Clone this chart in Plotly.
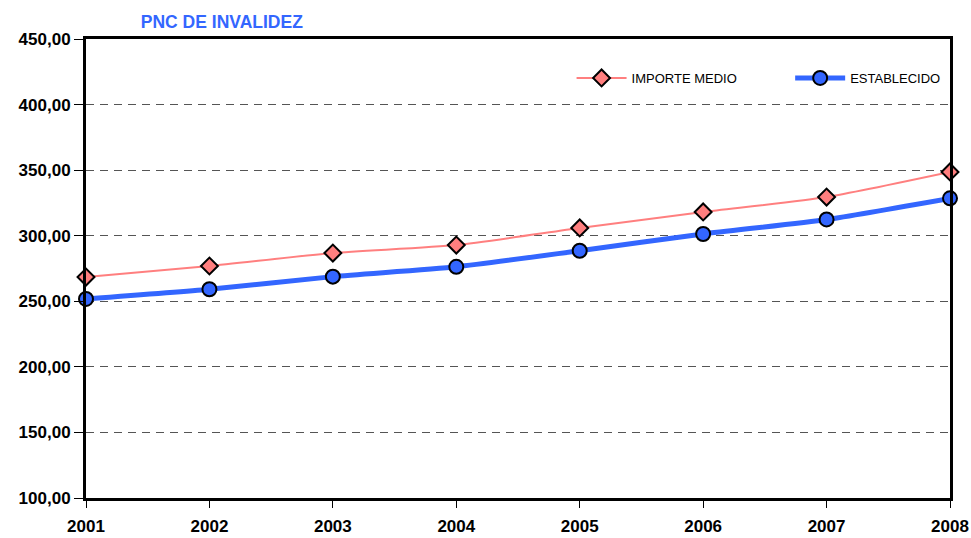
import plotly.graph_objects as go

years = ["2001", "2002", "2003", "2004", "2005", "2006", "2007", "2008"]
importe_medio = [268.5, 276.9, 286.8, 292.9, 305.9, 318.1, 329.5, 348.6]
establecido = [251.79, 259.20, 268.80, 276.30, 288.56, 301.31, 312.43, 328.48]

FONT = "Liberation Sans Narrow, Arial Narrow, Liberation Sans, Arial, sans-serif"

fig = go.Figure()
fig.add_trace(go.Scatter(
    x=years, y=importe_medio, name="IMPORTE MEDIO", mode="lines+markers",
    line=dict(color="#FF7F7F", width=2, shape="spline", smoothing=0.6),
    marker=dict(symbol="diamond", size=13, color="#FF7F7F", line=dict(color="black", width=2)),
    cliponaxis=False, legend="legend",
))
fig.add_trace(go.Scatter(
    x=years, y=establecido, name="ESTABLECIDO", mode="lines+markers",
    line=dict(color="#3366FF", width=5, shape="spline", smoothing=0.6),
    marker=dict(symbol="circle", size=14, color="#3366FF", line=dict(color="black", width=2)),
    cliponaxis=False, legend="legend2",
))

legend_common = dict(orientation="h", yanchor="middle", xanchor="left",
                     bgcolor="rgba(0,0,0,0)", borderwidth=0,
                     font=dict(family=FONT, size=13, color="black"), itemwidth=50)

fig.update_layout(
    width=971, height=538,
    margin=dict(l=86, r=21, t=39, b=40),
    paper_bgcolor="white", plot_bgcolor="white",
    separators=",.",
    font=dict(family=FONT, size=15, color="black"),
    title=dict(text="<b>PNC DE INVALIDEZ</b>", x=0.145, xanchor="left", y=0.959, yanchor="middle",
               font=dict(family=FONT, size=17.5, color="#3366FF")),
    legend=dict(x=0.562, y=0.915, **legend_common),
    legend2=dict(x=0.815, y=0.915, **legend_common),
    showlegend=True,
)
fig.update_xaxes(
    type="category", range=[0, 7], showgrid=False, automargin=False,
    showline=True, linecolor="black", linewidth=3, mirror=True,
    ticks="outside", ticklen=7, tickwidth=1, tickcolor="black",
    tickfont=dict(family=FONT, size=17, color="black"),
    ticklabelstandoff=4,
    title=None,
)
fig.update_yaxes(
    range=[100, 450], dtick=50, tickformat=".2f", automargin=False,
    showgrid=True, gridcolor="#555555", griddash="8px,6px", gridwidth=1,
    showline=True, linecolor="black", linewidth=3, mirror=True,
    ticks="outside", ticklen=9, tickwidth=1, tickcolor="black",
    tickfont=dict(family=FONT, size=17, color="black"),
    zeroline=False,
)
fig.update_xaxes(tickprefix="<b>", ticksuffix="</b>")
fig.update_yaxes(tickprefix="<b>", ticksuffix="</b>")

fig.write_html("out.html", config={"displayModeBar": False},
               post_script="document.body.style.margin='0';document.body.style.overflow='hidden';")
